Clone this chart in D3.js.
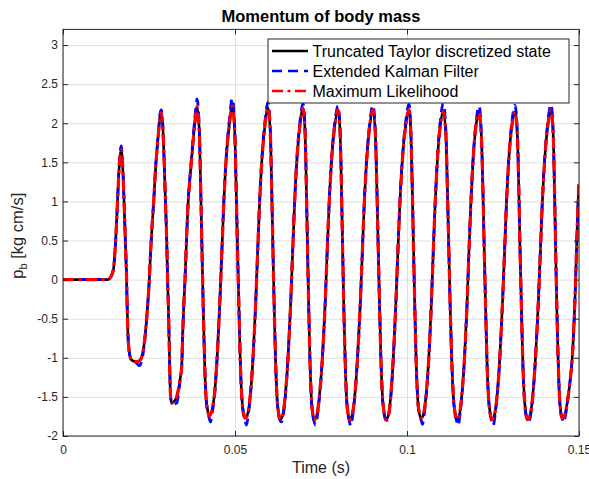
<!DOCTYPE html>
<html>
<head>
<meta charset="utf-8">
<script src="https://cdnjs.cloudflare.com/ajax/libs/d3/7.8.5/d3.min.js"></script>
<style>
body { margin: 0; background: #fff; }
text { font-family: "Liberation Sans", Arial, Helvetica, sans-serif; }
</style>
</head>
<body>
<svg id="chart" width="589" height="479"></svg>
<script>
// time stamps in ms
var timeMs = [
 0, 9.302, 13.081, 13.808, 14.622, 15.320, 15.785, 16.192, 16.570, 16.948,
 17.355, 17.733, 18.110, 18.459, 18.663, 18.895, 19.331, 19.971, 21.221, 22.180,
 23.169, 23.837, 24.506, 25.087, 25.494, 25.959, 26.454, 26.831, 27.413, 27.820,
 28.198, 28.576, 28.983, 29.360, 29.738, 30.145, 30.436, 30.669, 30.872, 31.047,
 31.250, 31.599, 32.267, 33.052, 34.012, 34.506, 34.797, 35.174, 35.465, 35.901,
 36.337, 36.919, 37.500, 38.081, 38.576, 38.954,
 39.622, 40.029, 40.407, 40.785, 41.163, 41.570, 42.006, 42.442, 42.878,
 43.314, 44.070, 44.797, 45.523, 46.134, 46.715, 47.442, 48.343, 49.215,
 49.913, 50.349, 50.756, 51.163, 51.541, 51.977, 52.442, 52.907, 53.343,
 53.779, 54.506, 55.233, 55.959, 56.541, 57.122, 57.849, 58.721, 59.593,
 60.262, 60.669, 61.047, 61.425, 61.802, 62.209, 62.645, 63.081, 63.517,
 63.954, 64.680, 65.407, 66.134, 66.715, 67.297, 68.023, 68.895, 69.767,
 70.378, 70.756, 71.105, 71.454, 71.802, 72.180, 72.558, 72.965, 73.401,
 73.866, 74.622, 75.407, 76.163, 76.744, 77.355, 78.110, 79.041, 79.942,
 80.581, 80.959, 81.308, 81.657, 82.035, 82.413, 82.820, 83.227, 83.663,
 84.128, 84.884, 85.611, 86.366, 86.977, 87.558, 88.314, 89.215, 90.116,
 90.814, 91.250, 91.657, 92.064, 92.442, 92.878, 93.343, 93.808, 94.244,
 94.680, 95.349, 96.017, 96.715, 97.297, 97.907, 98.692, 99.651, 100.581,
 101.134, 101.541, 101.919, 102.297, 102.674, 103.081, 103.547, 104.070, 104.506,
 104.913, 105.610, 106.337, 107.035, 107.587, 108.169, 108.866, 109.709, 110.552,
 111.308, 111.744, 112.180, 112.587, 113.023, 113.488, 113.954, 114.448, 114.884,
 115.291, 115.988, 116.715, 117.413, 117.965, 118.547, 119.244, 120.087, 120.930,
 121.628, 122.064, 122.471, 122.878, 123.256, 123.692, 124.157, 124.622, 125.058,
 125.494, 126.250, 126.977, 127.703, 128.314, 128.895, 129.622, 130.523, 131.395,
 132.093, 132.500, 132.878, 133.285, 133.663, 134.099, 134.535, 134.971, 135.407,
 135.872, 136.628, 137.355, 138.110, 138.721, 139.302, 140.058, 140.959, 141.860,
 142.500, 142.878, 143.227, 143.576, 143.954, 144.331, 144.738, 145.145, 145.581,
 146.017, 146.657, 147.384, 148.052, 148.547, 148.925, 149.331, 149.709, 150.000
];

// Maximum Likelihood (red)
var mle = [
 0, 0, 0, 0.03, 0.12, 0.51, 0.93, 1.32, 1.57, 1.66,
 1.44, 1.02, 0.51, 0.05, -0.35, -0.72, -0.94, -1.03, -1.05, -1.04,
 -0.94, -0.73, -0.39, 0, 0.38, 0.72, 1.06, 1.36, 1.70, 1.91,
 2.08, 2.13, 1.98, 1.57, 1.06, 0.51, -0.05, -0.40, -0.80, -1.16,
 -1.48, -1.58, -1.56, -1.50, -1.28, -1.11, -0.69, -0.26, 0, 0.50,
 0.95, 1.30, 1.60, 1.90, 2.10, 2.21,
 1.89, 1.17, 0.37, -0.40, -1.05, -1.50, -1.66, -1.74, -1.725,
 -1.67, -1.45, -1.00, -0.35, 0.30, 0.95, 1.55, 1.98, 2.22,
 1.90, 1.15, 0.35, -0.40, -1.05, -1.50, -1.70, -1.77, -1.755,
 -1.70, -1.45, -1.00, -0.35, 0.30, 0.95, 1.55, 1.98, 2.20,
 1.88, 1.15, 0.35, -0.40, -1.05, -1.50, -1.70, -1.79, -1.775,
 -1.72, -1.45, -1.00, -0.35, 0.30, 0.95, 1.55, 1.98, 2.19,
 1.87, 1.15, 0.35, -0.40, -1.05, -1.50, -1.70, -1.79, -1.775,
 -1.72, -1.45, -1.00, -0.35, 0.30, 0.95, 1.55, 1.98, 2.17,
 1.85, 1.15, 0.35, -0.40, -1.05, -1.50, -1.70, -1.79, -1.775,
 -1.72, -1.45, -1.00, -0.35, 0.30, 0.95, 1.55, 1.98, 2.17,
 1.85, 1.15, 0.35, -0.40, -1.05, -1.50, -1.70, -1.79, -1.775,
 -1.72, -1.45, -1.00, -0.35, 0.30, 0.95, 1.55, 1.98, 2.17,
 1.85, 1.15, 0.35, -0.40, -1.05, -1.50, -1.70, -1.77, -1.755,
 -1.70, -1.45, -1.00, -0.35, 0.30, 0.95, 1.55, 1.98, 2.15,
 1.85, 1.15, 0.35, -0.40, -1.05, -1.50, -1.70, -1.79, -1.775,
 -1.72, -1.45, -1.00, -0.35, 0.30, 0.95, 1.55, 1.98, 2.13,
 1.82, 1.15, 0.35, -0.40, -1.05, -1.50, -1.70, -1.79, -1.775,
 -1.72, -1.45, -1.00, -0.35, 0.30, 0.95, 1.55, 1.98, 2.15,
 1.83, 1.15, 0.35, -0.40, -1.05, -1.50, -1.70, -1.79, -1.775,
 -1.72, -1.45, -1.00, -0.35, 0.30, 0.95, 1.55, 1.98, 2.17,
 1.85, 1.15, 0.35, -0.40, -1.05, -1.50, -1.70, -1.77, -1.76,
 -1.71, -1.55, -1.30, -0.99, -0.56, -0.13, 0.45, 0.95, 1.22
];

// Truncated Taylor discretized state (black), sits under the red one
var taylor = [
 0, 0, 0, 0.03, 0.12, 0.51, 0.93, 1.32, 1.57, 1.66,
 1.44, 1.02, 0.51, 0.05, -0.35, -0.72, -0.94, -1.03, -1.05, -1.04,
 -0.94, -0.73, -0.39, 0, 0.38, 0.72, 1.06, 1.36, 1.70, 1.91,
 2.08, 2.13, 1.98, 1.57, 1.06, 0.51, -0.05, -0.40, -0.80, -1.16,
 -1.48, -1.58, -1.56, -1.50, -1.28, -1.11, -0.69, -0.26, 0, 0.50,
 0.95, 1.30, 1.60, 1.90, 2.10, 2.21,
 1.89, 1.17, 0.37, -0.40, -1.05, -1.50, -1.66, -1.74, -1.725,
 -1.67, -1.45, -1.00, -0.35, 0.30, 0.95, 1.55, 1.98, 2.22,
 1.90, 1.15, 0.35, -0.40, -1.05, -1.50, -1.70, -1.77, -1.755,
 -1.70, -1.45, -1.00, -0.35, 0.30, 0.95, 1.55, 1.98, 2.20,
 1.88, 1.15, 0.35, -0.40, -1.05, -1.50, -1.70, -1.79, -1.775,
 -1.72, -1.45, -1.00, -0.35, 0.30, 0.95, 1.55, 1.98, 2.19,
 1.87, 1.15, 0.35, -0.40, -1.05, -1.50, -1.70, -1.79, -1.775,
 -1.72, -1.45, -1.00, -0.35, 0.30, 0.95, 1.55, 1.98, 2.17,
 1.85, 1.15, 0.35, -0.40, -1.05, -1.50, -1.70, -1.79, -1.775,
 -1.72, -1.45, -1.00, -0.35, 0.30, 0.95, 1.55, 1.98, 2.17,
 1.85, 1.15, 0.35, -0.40, -1.05, -1.50, -1.70, -1.79, -1.775,
 -1.72, -1.45, -1.00, -0.35, 0.30, 0.95, 1.55, 1.98, 2.17,
 1.85, 1.15, 0.35, -0.40, -1.05, -1.50, -1.70, -1.77, -1.755,
 -1.70, -1.45, -1.00, -0.35, 0.30, 0.95, 1.55, 1.98, 2.15,
 1.85, 1.15, 0.35, -0.40, -1.05, -1.50, -1.70, -1.79, -1.775,
 -1.72, -1.45, -1.00, -0.35, 0.30, 0.95, 1.55, 1.98, 2.13,
 1.82, 1.15, 0.35, -0.40, -1.05, -1.50, -1.70, -1.79, -1.775,
 -1.72, -1.45, -1.00, -0.35, 0.30, 0.95, 1.55, 1.98, 2.15,
 1.83, 1.15, 0.35, -0.40, -1.05, -1.50, -1.70, -1.79, -1.775,
 -1.72, -1.45, -1.00, -0.35, 0.30, 0.95, 1.55, 1.98, 2.17,
 1.85, 1.15, 0.35, -0.40, -1.05, -1.50, -1.70, -1.77, -1.76,
 -1.71, -1.55, -1.30, -0.99, -0.56, -0.13, 0.45, 0.95, 1.22
];

// Extended Kalman Filter (blue), overshoots a little at peaks and troughs
var ekf = [
 0, 0, 0, 0.03, 0.13, 0.52, 0.95, 1.35, 1.62, 1.71,
 1.46, 1.03, 0.52, 0.05, -0.35, -0.72, -0.95, -1.04, -1.06, -1.10,
 -0.98, -0.75, -0.40, 0, 0.39, 0.74, 1.08, 1.38, 1.72, 1.94,
 2.12, 2.17, 2.00, 1.58, 1.07, 0.51, -0.05, -0.40, -0.80, -1.16,
 -1.48, -1.58, -1.59, -1.58, -1.30, -1.12, -0.70, -0.27, 0, 0.51,
 0.97, 1.33, 1.64, 1.95, 2.18, 2.31,
 1.95, 1.19, 0.37, -0.40, -1.05, -1.51, -1.68, -1.76, -1.82,
 -1.72, -1.47, -1.01, -0.36, 0.31, 0.97, 1.58, 2.04, 2.32,
 1.95, 1.17, 0.35, -0.40, -1.05, -1.51, -1.72, -1.79, -1.86,
 -1.76, -1.47, -1.01, -0.36, 0.31, 0.97, 1.58, 2.03, 2.27,
 1.93, 1.17, 0.35, -0.40, -1.05, -1.51, -1.72, -1.80, -1.82,
 -1.76, -1.47, -1.01, -0.36, 0.31, 0.97, 1.58, 2.03, 2.25,
 1.92, 1.17, 0.35, -0.40, -1.05, -1.51, -1.72, -1.81, -1.86,
 -1.77, -1.47, -1.01, -0.36, 0.31, 0.97, 1.58, 2.02, 2.22,
 1.89, 1.17, 0.35, -0.40, -1.05, -1.51, -1.72, -1.81, -1.87,
 -1.77, -1.47, -1.01, -0.36, 0.31, 0.97, 1.58, 2.02, 2.23,
 1.89, 1.17, 0.35, -0.40, -1.05, -1.51, -1.72, -1.79, -1.80,
 -1.74, -1.47, -1.01, -0.36, 0.31, 0.97, 1.58, 2.03, 2.24,
 1.90, 1.17, 0.35, -0.40, -1.05, -1.51, -1.72, -1.79, -1.85,
 -1.75, -1.47, -1.01, -0.36, 0.31, 0.97, 1.58, 2.04, 2.26,
 1.90, 1.17, 0.35, -0.40, -1.05, -1.51, -1.72, -1.81, -1.87,
 -1.77, -1.47, -1.01, -0.36, 0.31, 0.97, 1.58, 2.02, 2.22,
 1.87, 1.17, 0.35, -0.40, -1.05, -1.51, -1.72, -1.81, -1.87,
 -1.77, -1.47, -1.01, -0.36, 0.31, 0.97, 1.58, 2.03, 2.23,
 1.88, 1.17, 0.35, -0.40, -1.05, -1.51, -1.72, -1.79, -1.82,
 -1.75, -1.47, -1.01, -0.36, 0.31, 0.97, 1.58, 2.03, 2.24,
 1.89, 1.17, 0.35, -0.40, -1.05, -1.51, -1.72, -1.78, -1.83,
 -1.75, -1.57, -1.31, -1.00, -0.57, -0.13, 0.46, 0.96, 1.23
];

var xTicks = [0, 0.05, 0.1, 0.15];
var xTickLabels = ["0", "0.05", "0.1", "0.15"];
var yTicks = [-2, -1.5, -1, -0.5, 0, 0.5, 1, 1.5, 2, 2.5, 3];
var yTickLabels = ["-2", "-1.5", "-1", "-0.5", "0", "0.5", "1", "1.5", "2", "2.5", "3"];
var seriesNames = ["Truncated Taylor discretized state", "Extended Kalman Filter", "Maximum Likelihood"];

var svg = d3.select("#chart");
var plotLeft = 63, plotRight = 579, plotTop = 29.4, plotBottom = 436;
var x = d3.scaleLinear().domain([0, 0.15]).range([plotLeft, plotRight]);
var y = d3.scaleLinear().domain([-2, 3.2]).range([plotBottom, plotTop]);
var axisColor = "#262626";

// grid
svg.append("g")
    .attr("transform", "translate(0," + plotBottom + ")")
    .call(d3.axisBottom(x).tickValues(xTicks).tickSize(-(plotBottom - plotTop)).tickFormat(""))
    .call(function(g){ g.select(".domain").remove(); })
    .selectAll("line").attr("stroke", "#dfdfdf");
svg.append("g")
    .attr("transform", "translate(" + plotLeft + ",0)")
    .call(d3.axisLeft(y).tickValues(yTicks).tickSize(-(plotRight - plotLeft)).tickFormat(""))
    .call(function(g){ g.select(".domain").remove(); })
    .selectAll("line").attr("stroke", "#dfdfdf");

// curves
svg.append("clipPath").attr("id", "plotclip")
  .append("rect").attr("x", plotLeft).attr("y", plotTop)
  .attr("width", plotRight - plotLeft).attr("height", plotBottom - plotTop);

var line = function(vals) {
    return d3.line()
        .x(function(d, i){ return x(timeMs[i] / 1000); })
        .y(function(d){ return y(d); })
        .curve(d3.curveMonotoneX)(vals);
};

var plot = svg.append("g").attr("clip-path", "url(#plotclip)");
plot.append("path").attr("d", line(taylor))
    .attr("fill", "none").attr("stroke", "#000").attr("stroke-width", 2.6);
plot.append("path").attr("d", line(ekf))
    .attr("fill", "none").attr("stroke", "#0000ff").attr("stroke-width", 2.8)
    .attr("stroke-dasharray", "10,6");
plot.append("path").attr("d", line(mle))
    .attr("fill", "none").attr("stroke", "#ff0000").attr("stroke-width", 3.2)
    .attr("stroke-dasharray", "11,4.5,3,4.5");

// axes with inward ticks
function styleAxis(g) {
    g.select(".domain").remove();
    g.selectAll("line").attr("stroke", axisColor);
    g.selectAll("text").attr("fill", axisColor).style("font-size", "12px");
}
svg.append("g")
    .attr("transform", "translate(0," + plotBottom + ")")
    .call(d3.axisBottom(x).tickValues(xTicks).tickSize(-5).tickPadding(9)
        .tickFormat(function(d, i){ return xTickLabels[i]; }))
    .call(styleAxis);
svg.append("g")
    .attr("transform", "translate(0," + plotTop + ")")
    .call(d3.axisTop(x).tickValues(xTicks).tickSize(-5).tickFormat(""))
    .call(styleAxis);
svg.append("g")
    .attr("transform", "translate(" + plotLeft + ",0)")
    .call(d3.axisLeft(y).tickValues(yTicks).tickSize(-5).tickPadding(5)
        .tickFormat(function(d, i){ return yTickLabels[i]; }))
    .call(styleAxis);
svg.append("g")
    .attr("transform", "translate(" + plotRight + ",0)")
    .call(d3.axisRight(y).tickValues(yTicks).tickSize(-5).tickFormat(""))
    .call(styleAxis);

svg.append("rect")
    .attr("x", plotLeft).attr("y", plotTop)
    .attr("width", plotRight - plotLeft).attr("height", plotBottom - plotTop)
    .attr("fill", "none").attr("stroke", axisColor).attr("stroke-width", 1);

// title and labels
svg.append("text")
    .attr("x", (plotLeft + plotRight) / 2).attr("y", 22)
    .attr("text-anchor", "middle")
    .style("font-size", "16.5px").style("font-weight", "bold").attr("fill", "#000")
    .text("Momentum of body mass");

svg.append("text")
    .attr("x", (plotLeft + plotRight) / 2).attr("y", 473)
    .attr("text-anchor", "middle")
    .style("font-size", "16px").attr("fill", axisColor)
    .text("Time (s)");

var ylab = svg.append("text")
    .attr("transform", "translate(23," + ((plotTop + plotBottom) / 2 + 3) + ") rotate(-90)")
    .attr("text-anchor", "middle")
    .style("font-size", "16.5px").attr("fill", axisColor);
ylab.append("tspan").text("p");
ylab.append("tspan").attr("dy", 4).style("font-size", "11px").text("b");
ylab.append("tspan").attr("dy", -4).text(" [kg cm/s]");

// legend
var legend = svg.append("g");
legend.append("rect")
    .attr("x", 268).attr("y", 39).attr("width", 301).attr("height", 64)
    .attr("fill", "#fff").attr("stroke", axisColor).attr("stroke-width", 1);

var legendStyles = [
    {color: "#000", dash: null, w: 2.5},
    {color: "#0000ff", dash: "10,6", w: 2.5},
    {color: "#ff0000", dash: "11,4.5,3,4.5", w: 2.7}
];
seriesNames.forEach(function(name, i){
    var cy = 51 + i * 20;
    legend.append("line")
        .attr("x1", 272).attr("x2", 308).attr("y1", cy).attr("y2", cy)
        .attr("stroke", legendStyles[i].color).attr("stroke-width", legendStyles[i].w)
        .attr("stroke-dasharray", legendStyles[i].dash);
    legend.append("text")
        .attr("x", 312.5).attr("y", cy + 5.8)
        .style("font-size", "16px").attr("fill", "#000")
        .text(name);
});
</script>
</body>
</html>
